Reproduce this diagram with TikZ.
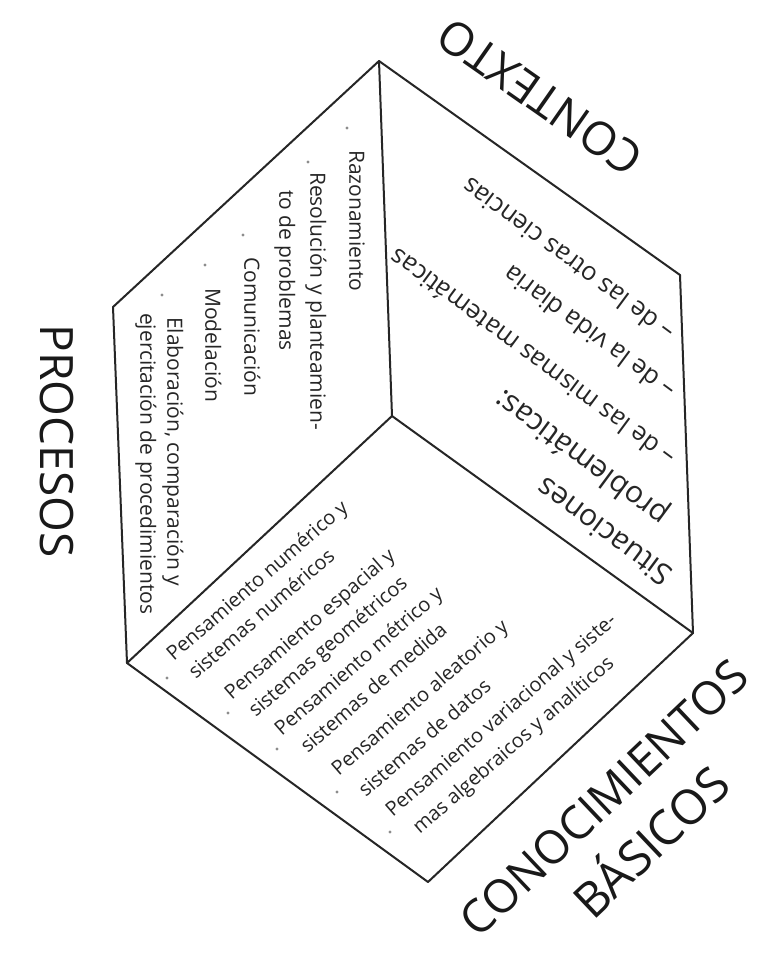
\documentclass[tikz,border=0pt]{standalone}
\usepackage{fontspec}
\setmainfont{Open Sans}
\begin{document}
\begin{tikzpicture}[x=1pt,y=-1pt,
  edge/.style={line width=2pt, draw=black!85, line join=round, line cap=round},
  biglabel/.style={inner sep=0pt, anchor=center, text=black!90, font=\fontsize{46}{46}\selectfont},
  lface/.style={inner sep=0pt, anchor=mid west, rotate=-90, text=black!85, font=\fontsize{21}{21}\selectfont},
  bface/.style={inner sep=0pt, anchor=mid west, rotate=41, text=black!85, font=\fontsize{20}{20}\selectfont},
  rface/.style={inner sep=0pt, anchor=mid west, rotate=143.5, text=black!85, font=\fontsize{25.5}{25.5}\selectfont},
  rhead/.style={rface, font=\fontsize{30}{30}\selectfont},
  bullet/.style={fill=black!45}
]
\fill[white] (0,0) rectangle (759,953);
\useasboundingbox (0,0) rectangle (759,953);

% cube vertices
\coordinate (T)  at (379,61);
\coordinate (UL) at (113,307);
\coordinate (LL) at (127,663);
\coordinate (B)  at (428,882);
\coordinate (LR) at (693,633);
\coordinate (UR) at (680,275);
\coordinate (C)  at (392,416);

% outline and inner edges
\draw[edge] (T) -- (UL) -- (LL) -- (B) -- (LR) -- (UR) -- cycle;
\draw[edge] (C) -- (T);
\draw[edge] (C) -- (LL);
\draw[edge] (C) -- (LR);

% big labels
\node[biglabel, rotate=145] (ctx) at (540,97) {CONTEXTO};
\node[biglabel, rotate=-90] (proc) at (57,441) {PROCESOS};
\node[biglabel, rotate=43.5] (cono) at (604,798) {CONOCIMIENTOS};
\node[biglabel, rotate=43.5, font=\fontsize{48}{48}\selectfont] (basi) at (648,839) {BÁSICOS};

% left face: procesos
\fill[bullet] (347,128) circle (1.6);
\fill[bullet] (308,162) circle (1.6);
\fill[bullet] (243,235) circle (1.6);
\fill[bullet] (205,265) circle (1.6);
\fill[bullet] (162,295) circle (1.6);
\node[lface] (p1)  at (352,150) {Razonamiento};
\node[lface] (p2a) at (313,172) {Resolución y planteamien-};
\node[lface] (p2b) at (282,190) {to de problemas};
\node[lface] (p3)  at (247,257) {Comunicación};
\node[lface] (p4)  at (208,288) {Modelación};
\node[lface] (p5a) at (170,317) {Elaboración, comparación y};
\node[lface] (p5b) at (143,313) {ejercitación de procedimientos};

% bottom face: conocimientos
\fill[bullet] (167,678) circle (1.6);
\fill[bullet] (228,713) circle (1.6);
\fill[bullet] (277,749) circle (1.6);
\fill[bullet] (337,792) circle (1.6);
\fill[bullet] (390,832) circle (1.6);
\node[bface] (k1a) at (172,660) {Pensamiento numérico y};
\node[bface] (k1b) at (194,678) {sistemas numéricos};
\node[bface] (k2a) at (230,699) {Pensamiento espacial y};
\node[bface] (k2b) at (254,716) {sistemas geométricos};
\node[bface] (k3a) at (280,735) {Pensamiento métrico y};
\node[bface] (k3b) at (306,752) {sistemas de medida};
\node[bface] (k4a) at (337,775) {Pensamiento aleatorio y};
\node[bface] (k4b) at (364,796) {sistemas de datos};
\node[bface] (k5a) at (391,816) {Pensamiento variacional y siste-};
\node[bface] (k5b) at (418,833) {mas algebraicos y analíticos};

% right face: contexto
\node[rhead] (c1a) at (673,573) {Situaciones};
\node[rhead] (c1b) at (669,514) {problemáticas:};
\node[rface] (c2)  at (676,456) {– de las mismas matemáticas};
\node[rface] (c3)  at (676,389) {– de la vida diaria};
\node[rface] (c4)  at (675,331) {– de las otras ciencias};
\end{tikzpicture}
\end{document}
